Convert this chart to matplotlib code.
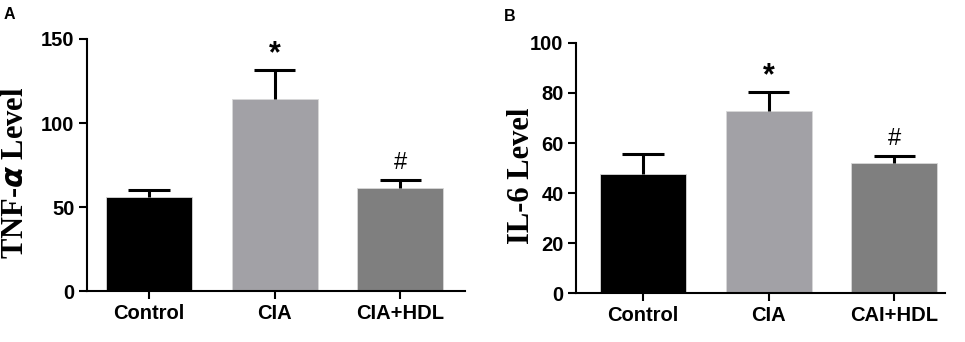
import matplotlib
matplotlib.use("Agg")
import matplotlib.pyplot as plt

plt.rcParams['font.family'] = ['Liberation Sans', 'DejaVu Sans']

groups_a = ["Control", "CIA", "CIA+HDL"]
tnf_mean = [55.8, 114.5, 61.5]
tnf_err = [4.3, 17.2, 4.6]
tnf_marks = ["", "*", "#"]

groups_b = ["Control", "CIA", "CAI+HDL"]
il6_mean = [47.6, 72.7, 51.9]
il6_err = [8.1, 7.7, 3.0]
il6_marks = ["", "*", "#"]

bar_colors = ["#000000", "#a2a1a6", "#7f7f7f"]


def draw_panel(ax, labels, means, errs, marks, ymax, yticks, ylabel, xlim, label_x):
    x = list(range(len(labels)))
    tops = [m + e for m, e in zip(means, errs)]
    ax.bar(x, means, width=0.685, color=bar_colors, edgecolor="#d8d8d8",
           linewidth=0.6, zorder=2)
    # upper error bars only
    ax.vlines(x, means, tops, color="black", linewidth=2.2, zorder=3)
    ax.hlines(tops, [xi - 0.165 for xi in x], [xi + 0.165 for xi in x],
              color="black", linewidth=2.2, zorder=3)
    for xi, t, s in zip(x, tops, marks):
        if s == "*":
            ax.text(xi, t + ymax * 0.002, s, ha="center", va="bottom",
                    fontsize=22, fontweight="bold")
        elif s == "#":
            ax.text(xi, t + ymax * 0.025, s, ha="center", va="bottom",
                    fontsize=17)
    ax.set_xlim(*xlim)
    ax.set_ylim(0, ymax)
    ax.set_yticks(yticks)
    ax.set_xticks(x)
    ax.set_xticklabels(labels)
    for side in ("top", "right"):
        ax.spines[side].set_visible(False)
    for side in ("left", "bottom"):
        ax.spines[side].set_linewidth(1.5)
    ax.tick_params(axis="both", direction="out", length=6, width=1.5,
                   labelsize=14.5, pad=3)
    for lab in ax.get_xticklabels() + ax.get_yticklabels():
        lab.set_fontweight("bold")
    ax.set_ylabel(ylabel, fontsize=22, fontweight="bold",
                  family=["Liberation Serif", "DejaVu Serif"])
    ax.yaxis.set_label_coords(label_x, 0.47)


fig = plt.figure(figsize=(9.65, 3.42), dpi=100)
ax_a = fig.add_axes([0.0902, 0.149, 0.392, 0.737])
ax_b = fig.add_axes([0.597, 0.142, 0.382, 0.733])

draw_panel(ax_a, groups_a, tnf_mean, tnf_err, tnf_marks, 150, [0, 50, 100, 150],
           r"TNF-$\boldsymbol{\alpha}$ Level", (-0.494, 2.518), -0.151)
draw_panel(ax_b, groups_b, il6_mean, il6_err, il6_marks, 100,
           [0, 20, 40, 60, 80, 100], "IL-6 Level", (-0.533, 2.402), -0.109)

fig.text(0.004, 0.945, "A", fontsize=11.5, fontweight="bold")
fig.text(0.522, 0.94, "B", fontsize=11.5, fontweight="bold")

fig.savefig("out.png", dpi=100)
